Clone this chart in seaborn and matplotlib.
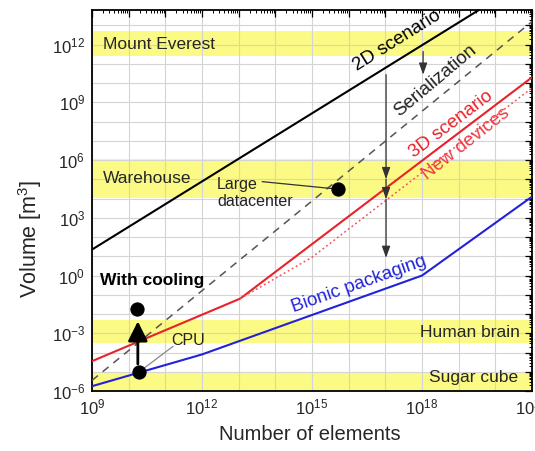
import numpy as np
import pandas as pd
import matplotlib
matplotlib.use('Agg')
import matplotlib.pyplot as plt
import seaborn as sns
from matplotlib.ticker import FixedLocator, FuncFormatter, NullFormatter

# ---- data (log10 exponents) ----
x_2d = [9, 21]
y_2d = [1.35, 15.51]
x_ser = [9, 21]
y_ser = [-5.45, 13.2]
x_3d = [9, 13.04, 21]
y_3d = [-4.45, -1.2, 10.3]
x_new = [13.04, 15.0, 21]
y_new = [-1.2, 0.95, 9.75]
x_bio = [9, 12, 18, 21]
y_bio = [-5.75, -4.1, 0.0, 4.1]

band_names = ['Mount Everest', 'Warehouse', 'Human brain', 'Sugar cube']
band_lo = [11.4, 4.05, -3.5, -6.0]
band_hi = [12.7, 6.05, -2.3, -5.0]

point_names = ['Large datacenter', 'CPU', 'With cooling']
point_x = [15.71, 10.29, 10.24]
point_y = [4.49, -5.0, -1.72]

x_exps = list(range(9, 22))
y_exps = list(range(-6, 14))

sns.set_theme(style='white')
plt.rcParams['font.family'] = ['Liberation Sans', 'DejaVu Sans']
plt.rcParams['mathtext.fontset'] = 'custom'
plt.rcParams['mathtext.rm'] = 'Liberation Sans'
plt.rcParams['mathtext.it'] = 'Liberation Sans:italic'
plt.rcParams['mathtext.bf'] = 'Liberation Sans:bold'

fig = plt.figure(figsize=(5.35, 4.51), dpi=100)
ax = fig.add_axes([92 / 535, 60 / 451, 440 / 535, 381 / 451])

def p(v):
    return [10.0 ** e for e in v]

series = [
    ('2D scenario', x_2d, y_2d, 'black', '-', 1.5),
    ('Serialization', x_ser, y_ser, '#555555', (0, (5, 4)), 1.1),
    ('3D scenario', x_3d, y_3d, '#e8222a', '-', 1.5),
    ('New devices', x_new, y_new, '#f0505a', (0, (1.2, 1.8)), 1.1),
    ('Bionic packaging', x_bio, y_bio, '#2222d8', '-', 1.5),
]
for name, xs, ys, col, ls, lw in series:
    df = pd.DataFrame({'x': p(xs), 'y': p(ys)})
    sns.lineplot(data=df, x='x', y='y', ax=ax, color=col, lw=lw,
                 estimator=None, sort=False, zorder=3)
    ax.lines[-1].set_linestyle(ls)

ax.set_xscale('log')
ax.set_yscale('log')
ax.set_xlim(1e9, 1e21)
ax.set_ylim(1e-6, 10 ** 13.8)

for lo, hi in zip(band_lo, band_hi):
    ax.axhspan(10 ** lo, 10 ** hi, color='#fbfa84', zorder=0.2, lw=0)

# ticks
fmt = FuncFormatter(lambda v, pos: (r'$\mathregular{10^{%d}}$' % round(np.log10(v)))
                    if round(np.log10(v)) % 3 == 0 else '')
ax.xaxis.set_major_locator(FixedLocator(p(x_exps)))
ax.yaxis.set_major_locator(FixedLocator(p(y_exps)))
ax.xaxis.set_major_formatter(fmt)
ax.yaxis.set_major_formatter(fmt)
ax.xaxis.set_minor_locator(FixedLocator([k * 10.0 ** e for e in x_exps for k in range(2, 10)]))
ax.yaxis.set_minor_locator(FixedLocator([k * 10.0 ** e for e in y_exps for k in range(2, 10)]))
ax.xaxis.set_minor_formatter(NullFormatter())
ax.yaxis.set_minor_formatter(NullFormatter())
ax.tick_params(which='both', direction='in', top=True, right=True, color='black')
ax.tick_params(which='major', length=5, width=0.9, labelsize=12, pad=5)
ax.tick_params(which='minor', length=2.5, width=0.7)
ax.grid(True, which='major', color='#d4d4d4', lw=0.8)
ax.set_axisbelow(True)
for s in ax.spines.values():
    s.set_color('black')
    s.set_linewidth(1.3)

ax.set_xlabel('Number of elements', fontsize=14.5)
ax.set_ylabel(r'Volume [m$^{3}$]', fontsize=15.5)
ax.xaxis.set_label_coords(0.495, -0.115)
ax.xaxis.label.set_va('center')
ax.yaxis.set_label_coords(-0.141, 0.40)
ax.yaxis.label.set_va('center')

# band labels
ax.text(10 ** 9.3, 10 ** 12.0, band_names[0], fontsize=12.5, ha='left', va='center')
ax.text(10 ** 9.3, 10 ** 5.06, band_names[1], fontsize=12.5, ha='left', va='center')
ax.text(10 ** 20.67, 10 ** -2.95, band_names[2], fontsize=12.5, ha='right', va='center')
ax.text(10 ** 20.62, 10 ** -5.32, band_names[3], fontsize=12.5, ha='right', va='center')

# line labels
lbl = dict(ha='center', va='center', rotation_mode='anchor', fontsize=13.5)
ax.text(10 ** 17.33, 10 ** 12.23, '2D scenario', rotation=32, color='black', **lbl)
ax.text(10 ** 18.35, 10 ** 10.14, 'Serialization', rotation=40, color='#222222', **lbl)
ax.text(10 ** 18.8, 10 ** 7.85, '3D scenario', rotation=37, color='#e8222a', **lbl)
ax.text(10 ** 19.2, 10 ** 6.85, 'New devices', rotation=38, color='#f03a44', **lbl)
ax.text(10 ** 16.28, 10 ** -0.45, 'Bionic packaging', rotation=19.5, color='#2222d8', **lbl)

# points
pdf = pd.DataFrame({'x': p(point_x), 'y': p(point_y), 'name': point_names})
sns.scatterplot(data=pdf, x='x', y='y', ax=ax, color='black', s=90,
                edgecolor='black', zorder=6, legend=False)

ax.text(10 ** 12.41, 10 ** 4.31, 'Large\ndatacenter', fontsize=11.5, ha='left',
        va='center', color='#222222', linespacing=1.15)
ax.annotate('', xy=(10 ** point_x[0], 10 ** point_y[0]), xytext=(10 ** 13.64, 10 ** 4.88),
            arrowprops=dict(arrowstyle='-', color='#333333', lw=0.9, shrinkA=0, shrinkB=0))
ax.text(10 ** 11.62, 10 ** -3.36, 'CPU', fontsize=11.5, ha='center', va='center', color='#222222')
ax.annotate('', xy=(10 ** 11.21, 10 ** -3.68), xytext=(10 ** point_x[1], 10 ** point_y[1]),
            arrowprops=dict(arrowstyle='-', color='#888888', lw=0.9, shrinkA=0, shrinkB=0))
ax.text(10 ** 9.22, 10 ** -0.26, 'With cooling', fontsize=12.5, fontweight='bold',
        ha='left', va='center', color='black')
ax.annotate('', xy=(10 ** 10.25, 10 ** -2.38), xytext=(10 ** 10.25, 10 ** -4.6),
            arrowprops=dict(arrowstyle='-|>,head_length=0.6,head_width=0.3', color='black',
                            lw=2.0, mutation_scale=20, shrinkA=0, shrinkB=0), zorder=7)

# transition arrows
arrow_x = [17.02, 17.02, 17.02, 18.03]
arrow_from = [10.44, 5.01, 3.97, 11.64]
arrow_to = [5.01, 3.97, 0.92, 10.44]
for ax_, a0, a1 in zip(arrow_x, arrow_from, arrow_to):
    ax.annotate('', xy=(10 ** ax_, 10 ** a1), xytext=(10 ** ax_, 10 ** a0),
                arrowprops=dict(arrowstyle='-|>,head_length=0.7,head_width=0.25',
                                color='#333333', lw=0.9, mutation_scale=10,
                                shrinkA=0, shrinkB=0), zorder=5)

fig.savefig('out.png', dpi=100)
